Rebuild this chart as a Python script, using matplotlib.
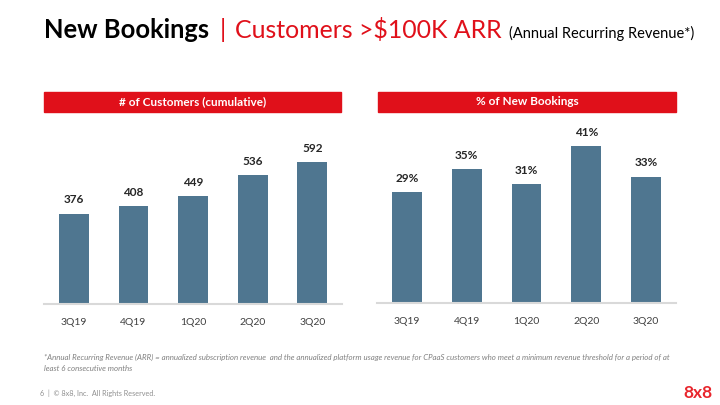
import matplotlib.pyplot as plt
from matplotlib.patches import Rectangle

plt.rcParams['font.family'] = ['Lato', 'DejaVu Sans']

quarters = ['3Q19', '4Q19', '1Q20', '2Q20', '3Q20']
customers = [376, 408, 449, 536, 592]
pct_bookings = [29, 35, 31, 41, 33]

BAR = '#4f7690'
RED = '#e0101a'

W, H = 720, 405
fig = plt.figure(figsize=(7.2, 4.05), dpi=100)


def px(x0, y0, x1, y1):
    # pixel box (top-left origin) -> figure fraction rect
    return [x0 / W, 1 - y1 / H, (x1 - x0) / W, (y1 - y0) / H]


def header(x0, x1, text):
    fig.patches.append(Rectangle((x0 / W, 1 - 112 / H), (x1 - x0) / W, 20 / H,
                                 transform=fig.transFigure, color=RED, zorder=1))
    fig.text((x0 + x1) / 2 / W, 1 - 102 / H, text, color='white', fontsize=8.5,
             fontweight='bold', ha='center', va='center', zorder=2)


def bars(rect, vals, top, fmt):
    ax = fig.add_axes(rect)
    x = range(len(quarters))
    b = ax.bar(x, vals, width=0.5, color=BAR, zorder=2)
    ax.bar_label(b, labels=[fmt.format(v) for v in vals], padding=6,
                 fontsize=8.5, fontweight='bold', color='#262626')
    ax.set_xlim(-0.5, len(quarters) - 0.5)
    ax.set_ylim(0, top)
    ax.set_xticks(list(x))
    ax.set_xticklabels(quarters, fontsize=7.5, color='#404040')
    ax.tick_params(axis='x', length=0, pad=10)
    ax.set_yticks([])
    for s in ['top', 'left', 'right']:
        ax.spines[s].set_visible(False)
    ax.spines['bottom'].set_color('#d9d9d9')
    ax.spines['bottom'].set_linewidth(1.5)
    return ax


header(44, 341, '# of Customers (cumulative)')
header(378, 676, '% of New Bookings')

bars(px(44, 120, 342, 304), customers, 184 / 0.24, '{}')
bars(px(377, 120, 676, 303), pct_bookings, 183 / 3.83, '{}%')

# title
fig.text(44 / W, 1 - 38 / H, 'New Bookings', fontsize=18.4, fontweight='bold',
         color='black', va='baseline')
fig.text(220 / W, 1 - 38 / H, '|', fontsize=18, color=RED, va='baseline')
fig.text(235 / W, 1 - 38 / H, 'Customers >$100K ARR', fontsize=17.9, color=RED,
         va='baseline')
fig.text(509 / W, 1 - 38 / H, '(Annual Recurring Revenue*)', fontsize=10.5,
         color='black', va='baseline')

fig.text(44 / W, 1 - 360 / H,
         '*Annual Recurring Revenue (ARR) = annualized subscription revenue  and the annualized '
         'platform usage revenue for CPaaS customers who meet a minimum revenue threshold for a period of at',
         fontsize=5.65, style='italic', color='#808080', va='baseline')
fig.text(44 / W, 1 - 371 / H, 'least 6 consecutive months',
         fontsize=5.65, style='italic', color='#808080', va='baseline')

fig.text(40 / W, 1 - 396 / H, '6  |  \u00a9 8x8, Inc.  All Rights Reserved.',
         fontsize=5.25, color='#909090', va='baseline')
fig.text(713 / W, 1 - 398 / H, '8x8', fontsize=12.5, fontweight='bold',
         color='#e8262d', ha='right', va='baseline')

fig.savefig('out.png', dpi=100)
